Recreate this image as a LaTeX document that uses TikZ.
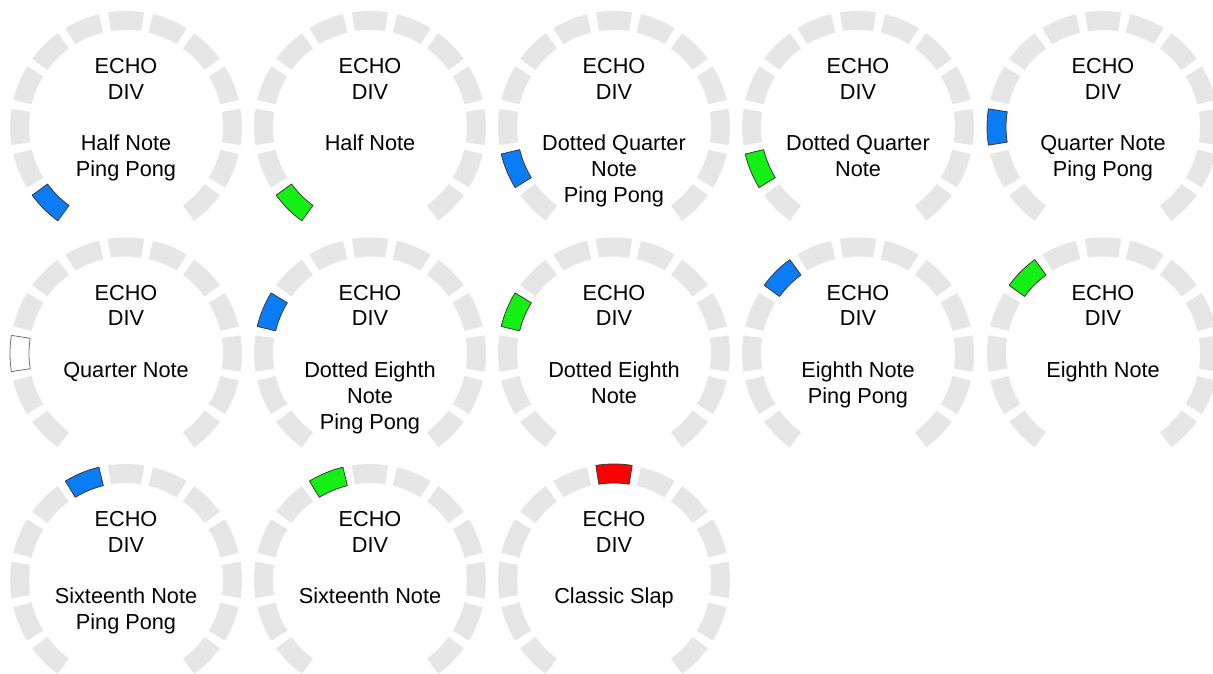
\documentclass[tikz,border=0pt]{standalone}
\usepackage{fontspec}
\setmainfont{Liberation Sans}
\usetikzlibrary{calc}
\definecolor{ringgray}{HTML}{E6E6E6}
\definecolor{pongblue}{HTML}{0A7CF5}
\definecolor{plaingreen}{HTML}{14F014}
\definecolor{slapred}{HTML}{FF0000}
\definecolor{segedge}{HTML}{3A3A3A}

\begin{document}
\begin{tikzpicture}[
  x=1pt, y=1pt,
  ringseg/.pic={
    \path[pic actions] (-9:97) arc[start angle=-9, end angle=9, radius=97]
      -- (9:116) arc[start angle=9, end angle=-9, radius=116] -- cycle;
  },
  idleseg/.style={fill=ringgray},
  litseg/.style={draw=segedge, line width=0.8pt, line join=round},
  pongseg/.style={litseg, fill=pongblue},
  plainseg/.style={litseg, fill=plaingreen},
  slapseg/.style={litseg, fill=slapred},
  blankseg/.style={draw=black!55, line width=0.8pt, line join=round, fill=white},
  dialtext/.style={anchor=north, inner sep=0pt, align=center,
    font=\fontsize{21.7}{25.8}\selectfont}
]
\useasboundingbox (0,0) rectangle (1213,673);

% dials: number / centre x / centre y / lit segment angle / lit style / setting
\foreach \n/\cx/\cy/\a/\lit/\setting in {
  1/126/546/225/pongseg/{Half Note\\Ping Pong},
  2/370/546/225/plainseg/{Half Note},
  3/614/546/202.5/pongseg/{Dotted Quarter\\Note\\Ping Pong},
  4/858/546/202.5/plainseg/{Dotted Quarter\\Note},
  5/1103/546/180/pongseg/{Quarter Note\\Ping Pong},
  6/126/319.5/180/blankseg/{Quarter Note},
  7/370/319.5/157.5/pongseg/{Dotted Eighth\\Note\\Ping Pong},
  8/614/319.5/157.5/plainseg/{Dotted Eighth\\Note},
  9/858/319.5/135/pongseg/{Eighth Note\\Ping Pong},
  10/1103/319.5/135/plainseg/{Eighth Note},
  11/126/93/112.5/pongseg/{Sixteenth Note\\Ping Pong},
  12/370/93/112.5/plainseg/{Sixteenth Note},
  13/614/93/90/slapseg/{Classic Slap}}
{
  \coordinate (c\n) at (\cx,\cy);
  % ring of thirteen steps, open at the bottom
  \foreach \k in {0,...,12}
    \pic[rotate={225-22.5*\k}, idleseg] at (c\n) {ringseg};
  \pic[rotate=\a, \lit] at (c\n) {ringseg};
  \node[dialtext] (t\n) at ($(c\n)+(0,68.8)$) {ECHO\\DIV\\[25.8pt]\setting};
}
\end{tikzpicture}
\end{document}
